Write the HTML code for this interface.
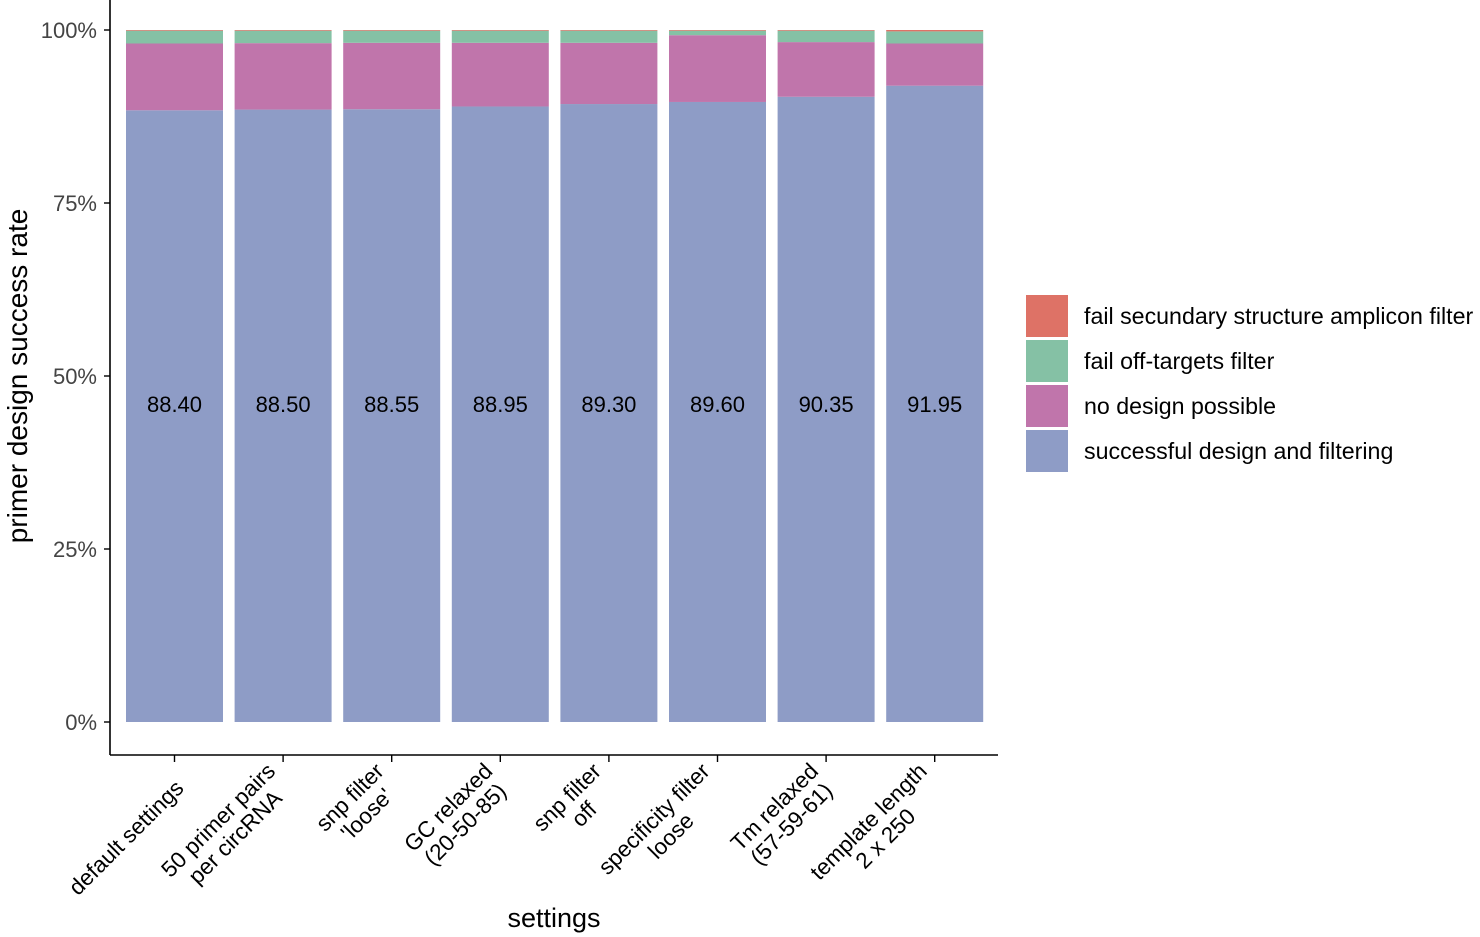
<!DOCTYPE html>
<html><head><meta charset="utf-8">
<style>
body{margin:0;background:#fff;}
svg{display:block;font-family:"Liberation Sans",Helvetica,Arial,sans-serif;}
</style></head>
<body>
<svg id="chart" width="1480" height="937" viewBox="0 0 1480 937" xmlns="http://www.w3.org/2000/svg"></svg>
<script>
const categories = [["default settings"],["50 primer pairs","per circRNA"],["snp filter","'loose'"],["GC relaxed","(20-50-85)"],["snp filter","off"],["specificity filter","loose"],["Tm relaxed","(57-59-61)"],["template length","2 x 250"]];
const successful = [88.40,88.50,88.55,88.95,89.30,89.60,90.35,91.95];
const noDesign = [9.65,9.60,9.60,9.20,8.85,9.65,7.90,6.10];
const offTargets = [1.85,1.80,1.75,1.75,1.75,0.65,1.65,1.75];
const secStructure = [0.10,0.10,0.10,0.10,0.10,0.10,0.10,0.20];
const yTicks = [0,25,50,75,100];
const legendLabels = ["fail secundary structure amplicon filter","fail off-targets filter","no design possible","successful design and filtering"];

const NS="http://www.w3.org/2000/svg";
const svg=document.getElementById('chart');
function mk(tag,attrs,parent){const e=document.createElementNS(NS,tag);for(const k in attrs)e.setAttribute(k,attrs[k]);(parent||svg).appendChild(e);return e;}
const y0=722,y100=30;
const yS=v=>y0-(y0-y100)*v/100;
const step=108.6, x0=126, bw=97;
const xS=i=>x0+i*step;
const colors={s:"#8e9cc6",n:"#c075ab",o:"#85c1a5",r:"#de7266"};

const ax=mk('line',{x1:110,y1:0,x2:110,y2:755,stroke:"#000","stroke-width":1.6});

const bx=mk('line',{x1:110,y1:755,x2:998,y2:755,stroke:"#000","stroke-width":1.6});


yTicks.forEach(t=>{
  const y=yS(t);
  const l=mk('line',{x1:104,y1:y,x2:110,y2:y,stroke:"#000","stroke-width":1.4});
  
  const tx=mk('text',{x:97,y:y+8,"text-anchor":"end","font-size":22,fill:"#444"});
  tx.textContent=t+"%";
  
});

categories.forEach((c,i)=>{
  const x=xS(i);
  let base=0;
  const segs=[[successful[i],colors.s,'bar-successful'],[noDesign[i],colors.n,'bar-no-design'],[offTargets[i],colors.o,'bar-off-targets'],[secStructure[i],colors.r,'bar-secondary-structure']];
  segs.forEach(s=>{
    const r=mk('rect',{x:x,y:yS(base+s[0]),width:bw,height:yS(base)-yS(base+s[0]),fill:s[1]});
    
    base+=s[0];
  });
  const v=mk('text',{x:x+bw/2,y:412,"text-anchor":"middle","font-size":22,fill:"#000"});
  v.textContent=successful[i].toFixed(2);
  
  const cx=x+bw/2;
  const tk=mk('line',{x1:cx,y1:755,x2:cx,y2:762,stroke:"#000","stroke-width":1.4});
  
  const g=mk('text',{transform:`translate(${cx+2},${781}) rotate(-45)`,"font-size":22.5,fill:"#000"});
  
  c.forEach((line)=>{
    const ts=mk('tspan',{},g);
    ts.textContent=line;
  });
  const spans=g.querySelectorAll('tspan');
  const w=[];spans.forEach(s=>w.push(s.getComputedTextLength()));
  const maxw=Math.max(...w);
  spans.forEach((s,j)=>{s.setAttribute('text-anchor','middle');s.setAttribute('x',-maxw/2);s.setAttribute('dy',j===0?(-(c.length-1)*24+12):24);});
});

const xt=mk('text',{x:554,y:927,"text-anchor":"middle","font-size":27,fill:"#000"});
xt.textContent="settings";
const yt=mk('text',{transform:"translate(27,376) rotate(-90)","text-anchor":"middle","font-size":28,fill:"#000"});
yt.textContent="primer design success rate";

const lc=[colors.r,colors.o,colors.n,colors.s];
legendLabels.forEach((lab,i)=>{
  const y=295+i*45;
  const r=mk('rect',{x:1026,y:y,width:42,height:42,fill:lc[i]});
  
  const t=mk('text',{x:1084,y:y+29,"font-size":23.2,fill:"#000"});
  t.textContent=lab;
});
</script>
</body></html>
